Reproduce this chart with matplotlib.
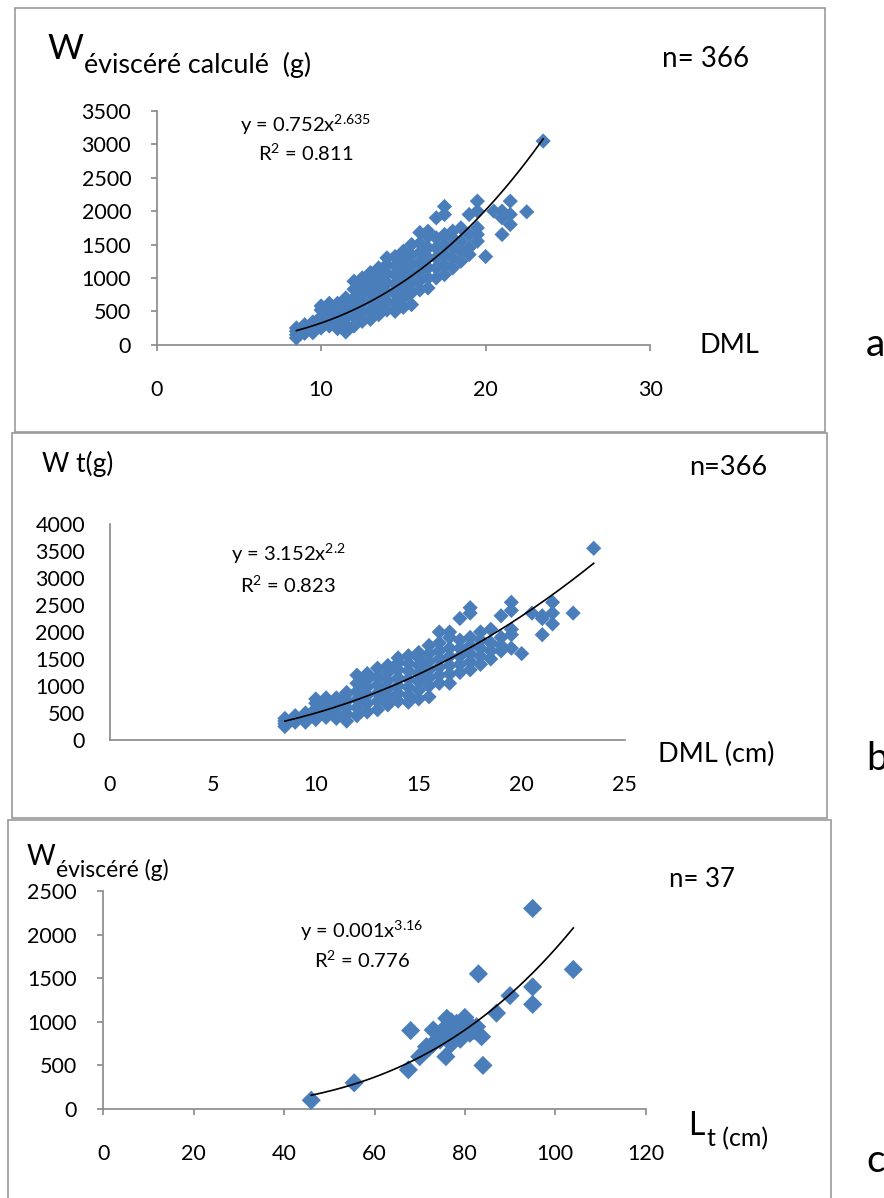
import matplotlib
matplotlib.use("Agg")
import matplotlib.pyplot as plt
import numpy as np
from matplotlib.patches import Rectangle

plt.rcParams['font.family'] = ['Lato', 'DejaVu Sans']
plt.rcParams['mathtext.fontset'] = 'custom'
plt.rcParams['mathtext.rm'] = 'Lato'
plt.rcParams['mathtext.it'] = 'Lato:italic'
plt.rcParams['mathtext.bf'] = 'Lato:bold'

# ---------------- data ----------------
# DML (cm), shared by panels a and b
dml = [8.5, 8.5, 8.5, 8.5,
       9, 9, 9,
       9.5, 9.5, 9.5,
       10, 10, 10, 10, 10,
       10.5, 10.5, 10.5, 10.5, 10.5,
       11, 11, 11, 11, 11,
       11.5, 11.5, 11.5, 11.5, 11.5, 11.5,
       12, 12, 12, 12, 12, 12,
       12.5, 12.5, 12.5, 12.5, 12.5, 12.5,
       13, 13, 13, 13, 13, 13,
       13.5, 13.5, 13.5, 13.5, 13.5, 13.5,
       14, 14, 14, 14, 14, 14, 14,
       14.5, 14.5, 14.5, 14.5, 14.5, 14.5, 14.5,
       15, 15, 15, 15, 15, 15, 15,
       15.5, 15.5, 15.5, 15.5, 15.5, 15.5, 15.5,
       16, 16, 16, 16, 16, 16, 16,
       16.5, 16.5, 16.5, 16.5, 16.5, 16.5, 16.5,
       17, 17, 17, 17, 17, 17,
       17.5, 17.5, 17.5, 17.5, 17.5, 17.5, 17.5,
       18, 18, 18, 18, 18,
       18.5, 18.5, 18.5, 18.5,
       19, 19, 19, 19,
       19.5, 19.5, 19.5, 19.5, 19.5,
       20,
       20.5,
       21, 21, 21,
       21.5, 21.5, 21.5,
       22.5,
       23.5]

# panel a: W eviscere calcule (g)
w_evisc_calc = [100, 150, 200, 250,
                170, 230, 300,
                180, 260, 340,
                250, 330, 420, 520, 580,
                280, 370, 460, 560, 620,
                240, 330, 430, 520, 620,
                190, 300, 400, 520, 650, 700,
                280, 420, 560, 700, 830, 950,
                350, 480, 620, 760, 880, 1000,
                380, 520, 660, 800, 940, 1080,
                450, 600, 740, 880, 1020, 1150,
                520, 650, 790, 930, 1070, 1200, 1300,
                500, 620, 760, 900, 1040, 1180, 1320,
                560, 700, 850, 990, 1130, 1270, 1400,
                600, 780, 920, 1060, 1200, 1340, 1500,
                820, 960, 1100, 1240, 1380, 1520, 1680,
                850, 1000, 1150, 1300, 1450, 1620, 1700,
                1000, 1150, 1300, 1450, 1600, 1900,
                1050, 1200, 1350, 1500, 1650, 1950, 2070,
                1150, 1300, 1450, 1600, 1700,
                1250, 1400, 1550, 1750,
                1350, 1450, 1650, 1950,
                1550, 1650, 1750, 2000, 2150,
                1320,
                2000,
                1650, 1900, 2000,
                1800, 1950, 2150,
                1990,
                3050]

# panel b: W total (g)
w_total = [250, 300, 350, 400,
           330, 400, 450,
           330, 420, 500,
           380, 480, 580, 680, 760,
           420, 520, 620, 720, 780,
           400, 500, 600, 700, 780,
           350, 480, 600, 720, 850, 880,
           450, 600, 750, 900, 1050, 1200,
           520, 680, 830, 980, 1120, 1230,
           560, 720, 870, 1020, 1170, 1330,
           650, 800, 950, 1100, 1250, 1380,
           720, 860, 1000, 1150, 1300, 1430, 1520,
           700, 830, 980, 1130, 1280, 1420, 1560,
           760, 920, 1080, 1230, 1380, 1520, 1620,
           800, 1000, 1150, 1300, 1450, 1600, 1750,
           1050, 1200, 1350, 1500, 1650, 1800, 2000,
           1050, 1220, 1380, 1550, 1700, 1900, 2000,
           1250, 1400, 1550, 1700, 1850, 2250,
           1300, 1450, 1600, 1750, 1900, 2350, 2450,
           1400, 1550, 1700, 1850, 2000,
           1500, 1650, 1800, 2050,
           1650, 1750, 1900, 2300,
           1700, 1950, 2050, 2400, 2550,
           1600,
           2350,
           1950, 2250, 2300,
           2150, 2350, 2550,
           2350,
           3550]

# panel c: Lt (cm) vs W eviscere (g), n = 37
lt_c = [46, 55.5, 67.5, 68, 70, 71.5, 73, 74.5, 75.8, 76, 77.4, 78.2, 80.4,
        81.1, 82.6, 83.7, 84, 83, 87, 90, 95, 95, 95, 104, 72, 73, 74, 75,
        76, 77, 78, 79, 80, 81, 82, 77, 79]
w_c = [100, 300, 450, 900, 600, 715, 906, 791, 600, 1040, 906, 983, 1001,
       868, 944, 829, 500, 1550, 1100, 1300, 1400, 1200, 2300, 1600, 700,
       750, 800, 850, 950, 1000, 900, 850, 1050, 950, 900, 750, 800]

# power trend lines (coefficients as displayed / fitted)
fit_a = (0.752, 2.635)
fit_b = (3.152, 2.2)
fit_c = (0.000878, 3.16)

xticks_a = [0, 10, 20, 30]
yticks_a = [0, 500, 1000, 1500, 2000, 2500, 3000, 3500]
xticks_b = [0, 5, 10, 15, 20, 25]
yticks_b = [0, 500, 1000, 1500, 2000, 2500, 3000, 3500, 4000]
xticks_c = [0, 20, 40, 60, 80, 100, 120]
yticks_c = [0, 500, 1000, 1500, 2000, 2500]

# ---------------- figure ----------------
W, H = 884, 1198
fig = plt.figure(figsize=(W / 100, H / 100), dpi=100)
BLUE = '#4a7ebb'
AXIS = '#888888'
BOX = '#999999'


def fx(px):
    return px / W


def fy(py):
    return 1 - py / H


def txt(x, y, s, size, ha='left'):
    fig.text(fx(x), fy(y), s, fontsize=size, ha=ha, va='baseline', color='black')


def add_ax(x0, x1, y0, ytop):
    return fig.add_axes([fx(x0), fy(y0), (x1 - x0) / W, (y0 - ytop) / H])


def style(ax, xlim, ylim, xt, yt, ticklen, xpad, ypad):
    ax.set_xlim(xlim)
    ax.set_ylim(ylim)
    ax.set_xticks(xt)
    ax.set_yticks(yt)
    for s in ['top', 'right']:
        ax.spines[s].set_visible(False)
    for s in ['left', 'bottom']:
        ax.spines[s].set_color(AXIS)
        ax.spines[s].set_linewidth(1.2)
    ax.tick_params(axis='both', colors=AXIS, labelcolor='black', labelsize=15.5,
                   length=ticklen, width=1.2, direction='out')
    ax.tick_params(axis='x', pad=xpad)
    ax.tick_params(axis='y', pad=ypad)
    ax.patch.set_visible(False)


def trend(ax, xs, fit):
    xx = np.linspace(min(xs), max(xs), 200)
    ax.plot(xx, fit[0] * xx ** fit[1], color='black', lw=1.2, zorder=4, clip_on=False)


# panel boxes
for (x0, y0, x1, y1) in [(15, 8, 825, 432), (12, 433, 827, 818), (8, 820, 831, 1210)]:
    fig.patches.append(Rectangle((fx(x0), fy(y1)), (x1 - x0) / W, (y1 - y0) / H,
                                 transform=fig.transFigure, fill=False,
                                 edgecolor=BOX, lw=1.2))

R2 = r'R$^{\mathregular{2}}$ = '

# ---- panel a ----
axa = add_ax(156.6, 650.1, 344.7, 111)
style(axa, (0, 30), (0, 3500), xticks_a, yticks_a, 4.3, 21, 14)
axa.scatter(dml, w_evisc_calc, marker='D', s=60, color=BLUE, edgecolors='none',
            zorder=3, clip_on=False)
trend(axa, dml, fit_a)
txt(306, 132, r'y = 0.752x$^{\mathregular{2.635}}$', 14.5, ha='center')
txt(306, 161, R2 + '0.811', 14.5, ha='center')
txt(47, 59, 'W', 25)
txt(84, 73, 'éviscéré calculé  (g)', 19.4)
txt(662, 67, 'n= 366', 20)
txt(700, 353, 'DML', 19.5)
txt(866, 356, 'a', 28)

# ---- panel b ----
axb = add_ax(109.9, 624.6, 740, 524)
style(axb, (0, 25), (0, 4000), xticks_b, yticks_b, 0, 25, 18)
axb.scatter(dml, w_total, marker='D', s=60, color=BLUE, edgecolors='none',
            zorder=3, clip_on=False)
trend(axb, dml, fit_b)
txt(288, 561, r'y = 3.152x$^{\mathregular{2.2}}$', 14.5, ha='center')
txt(288, 593, R2 + '0.823', 14.5, ha='center')
txt(42, 472, 'W t(g)', 19)
txt(689, 475, 'n=366', 19.5)
txt(658, 762, 'DML (cm)', 19.5)
txt(866, 770, 'b', 28)

# ---- panel c ----
axc = add_ax(103.4, 645.6, 1109, 891)
style(axc, (0, 120), (0, 2500), xticks_c, yticks_c, 4.3, 21, 15)
axc.scatter(lt_c, w_c, marker='D', s=95, color=BLUE, edgecolors='none',
            zorder=3, clip_on=False)
trend(axc, lt_c, fit_c)
txt(362, 938, r'y = 0.001x$^{\mathregular{3.16}}$', 14.5, ha='center')
txt(362, 968, R2 + '0.776', 14.5, ha='center')
txt(27, 865, 'W', 20)
txt(56, 877, 'éviscéré (g)', 16.5)
txt(669, 887, 'n= 37', 18.5)
txt(688, 1135, 'L', 23)
txt(707, 1146, 't (cm)', 18)
txt(866, 1172, 'c', 28)

fig.savefig('out.png', dpi=100)
